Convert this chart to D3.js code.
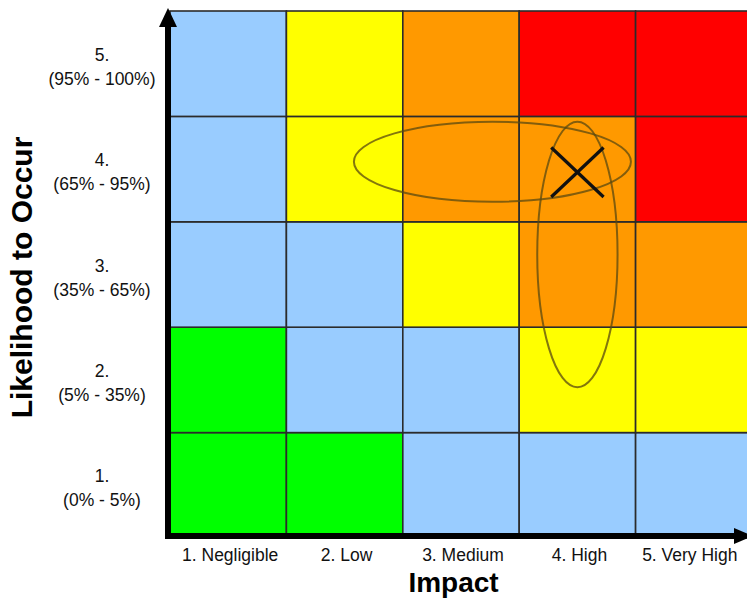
<!DOCTYPE html>
<html>
<head>
<meta charset="utf-8">
<script src="https://cdn.jsdelivr.net/npm/d3@7"></script>
<style>
  html, body { margin: 0; padding: 0; background: #ffffff; }
  svg { display: block; }
</style>
</head>
<body>
<svg id="chart" width="747" height="601"></svg>
<script>
// ---- data ----
const impactLevels = [1, 2, 3, 4, 5];
const impactLabels = ["1. Negligible", "2. Low", "3. Medium", "4. High", "5. Very High"];
const likelihoodLevels = [1, 2, 3, 4, 5];
const likelihoodNumbers = ["1.", "2.", "3.", "4.", "5."];
const likelihoodRanges = ["(0% - 5%)", "(5% - 35%)", "(35% - 65%)", "(65% - 95%)", "(95% - 100%)"];
// risk rating per likelihood row (1..5), per impact column (1..5)
const riskRow1 = ["green", "green", "blue", "blue", "blue"];
const riskRow2 = ["green", "blue", "blue", "yellow", "yellow"];
const riskRow3 = ["blue", "blue", "yellow", "orange", "orange"];
const riskRow4 = ["blue", "yellow", "orange", "orange", "red"];
const riskRow5 = ["blue", "yellow", "orange", "red", "red"];
const riskNames = ["green", "blue", "yellow", "orange", "red"];
const riskColors = ["#00FF00", "#99CCFF", "#FFFF00", "#FF9900", "#FF0000"];
// annotation ellipses, in impact / likelihood units
const ellipseCx = [3.27, 4.0];
const ellipseCy = [4.07, 3.19];
const ellipseRx = [1.19, 0.345];
const ellipseRy = [0.38, 1.26];
// risk marker (X)
const markImpact = 4.0;
const markLikelihood = 3.97;
const markHalfW = 0.225;
const markHalfH = 0.235;

// ---- layout ----
const svg = d3.select("#chart");
const plotLeft = 170, plotRight = 752, plotTop = 11, plotBottom = 538;
const font = "Arial, 'Liberation Sans', Helvetica, sans-serif";

const x = d3.scaleBand().domain(impactLevels).range([plotLeft, plotRight]).padding(0);
const y = d3.scaleBand().domain(likelihoodLevels).range([plotBottom, plotTop]).padding(0);
const xl = d3.scaleLinear().domain([0.5, 5.5]).range([plotLeft, plotRight]);
const yl = d3.scaleLinear().domain([0.5, 5.5]).range([plotBottom, plotTop]);
const color = d3.scaleOrdinal().domain(riskNames).range(riskColors);

const rows = [riskRow1, riskRow2, riskRow3, riskRow4, riskRow5];
const cells = [];
rows.forEach((r, i) => r.forEach((c, j) => cells.push({ lik: likelihoodLevels[i], imp: impactLevels[j], risk: c })));

svg.append("g").selectAll("rect").data(cells).join("rect")
  .attr("x", d => x(d.imp))
  .attr("y", d => y(d.lik))
  .attr("width", x.bandwidth())
  .attr("height", y.bandwidth())
  .attr("fill", d => color(d.risk))
  .attr("stroke", "#2b2b2b")
  .attr("stroke-width", 1.6);

// ellipses
svg.append("g").selectAll("ellipse").data(ellipseCx.map((c, i) => i)).join("ellipse")
  .attr("cx", i => xl(ellipseCx[i]))
  .attr("cy", i => yl(ellipseCy[i]))
  .attr("rx", i => xl(ellipseRx[i]) - xl(0))
  .attr("ry", i => yl(0) - yl(ellipseRy[i]))
  .attr("fill", "none")
  .attr("stroke", "#5a4a10")
  .attr("stroke-opacity", 0.75)
  .attr("stroke-width", 2);

// X marker
const mk = svg.append("g").attr("stroke", "#111").attr("stroke-width", 3.2).attr("stroke-linecap", "butt");
mk.append("line")
  .attr("x1", xl(markImpact - markHalfW)).attr("y1", yl(markLikelihood + markHalfH))
  .attr("x2", xl(markImpact + markHalfW)).attr("y2", yl(markLikelihood - markHalfH));
mk.append("line")
  .attr("x1", xl(markImpact + markHalfW)).attr("y1", yl(markLikelihood + markHalfH))
  .attr("x2", xl(markImpact - markHalfW)).attr("y2", yl(markLikelihood - markHalfH));

// axes lines with arrows
const axisG = svg.append("g");
const ax = 168, ay = 536;
axisG.append("line").attr("x1", ax).attr("x2", ax).attr("y1", ay + 3).attr("y2", 24)
  .attr("stroke", "#000").attr("stroke-width", 6);
axisG.append("path").attr("d", `M${ax - 9},27 L${ax},8 L${ax + 9},27 Z`).attr("fill", "#000");
axisG.append("line").attr("x1", ax - 3).attr("x2", 737).attr("y1", ay).attr("y2", ay)
  .attr("stroke", "#000").attr("stroke-width", 6);
axisG.append("path").attr("d", `M734,${ay - 8} L753,${ay} L734,${ay + 8} Z`).attr("fill", "#000");

// x tick labels
svg.append("g").selectAll("text").data(impactLevels).join("text")
  .attr("x", d => x(d) + x.bandwidth() / 2 + (d === 5 ? -4 : 2))
  .attr("y", 561)
  .attr("text-anchor", "middle")
  .attr("font-family", font)
  .attr("font-size", 17.5)
  .attr("fill", "#111")
  .text((d, i) => impactLabels[i]);

// y tick labels
const yt = svg.append("g").selectAll("text").data(likelihoodLevels).join("text")
  .attr("text-anchor", "middle")
  .attr("font-family", font)
  .attr("font-size", 17.5)
  .attr("fill", "#111");
yt.append("tspan")
  .attr("x", 102)
  .attr("y", d => y(d) + y.bandwidth() / 2 - 3)
  .text((d, i) => likelihoodNumbers[i]);
yt.append("tspan")
  .attr("x", 102)
  .attr("y", d => y(d) + y.bandwidth() / 2 + 21)
  .text((d, i) => likelihoodRanges[i]);

// axis titles
svg.append("text")
  .attr("x", 453.5).attr("y", 592)
  .attr("text-anchor", "middle")
  .attr("font-family", font).attr("font-weight", "bold").attr("font-size", 28)
  .attr("fill", "#000")
  .text("Impact");
svg.append("text")
  .attr("transform", "translate(32,277.5) rotate(-90)")
  .attr("text-anchor", "middle")
  .attr("font-family", font).attr("font-weight", "bold").attr("font-size", 30)
  .attr("fill", "#000")
  .text("Likelihood to Occur");
</script>
</body>
</html>
